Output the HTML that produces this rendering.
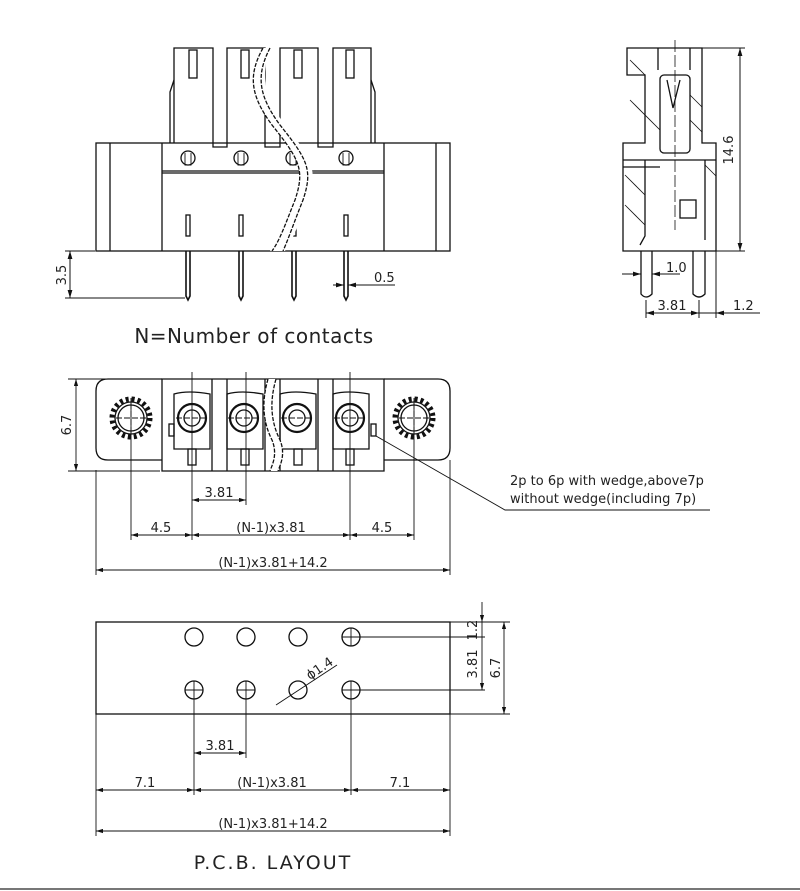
<!DOCTYPE html>
<html><head><meta charset="utf-8"><style>
html,body{margin:0;padding:0;background:#fff;}
svg{display:block;}
text{font-family:"DejaVu Sans","Liberation Sans",sans-serif;fill:#222;}
</style></head><body>
<svg width="800" height="891" viewBox="0 0 800 891" xmlns="http://www.w3.org/2000/svg">
<defs>
<marker id="a" viewBox="0 0 10 6" refX="10" refY="3" markerWidth="8" markerHeight="5" orient="auto-start-reverse"><path d="M0,0 L10,3 L0,6 z" fill="#111"/></marker>
</defs>
<g stroke="#111" stroke-width="1.3" fill="none">
<!-- FRONT VIEW -->
<rect x="96" y="143" width="354" height="108"/>
<line x1="110" y1="143" x2="110" y2="251"/><line x1="436" y1="143" x2="436" y2="251"/>
<line x1="162" y1="143" x2="162" y2="251"/><line x1="384" y1="143" x2="384" y2="251"/>
<line x1="162" y1="171" x2="384" y2="171"/><line x1="162" y1="173" x2="384" y2="173"/>
<path d="M174,143 V48 H213 V143"/>
<path d="M174,80 L170,92 V143"/>
<rect x="189" y="50" width="8" height="28"/>
<path d="M227,143 V48 H265 V143"/><rect x="241" y="50" width="8" height="28"/>
<path d="M280,143 V48 H318 V143"/><rect x="294" y="50" width="8" height="28"/>
<path d="M333,143 V48 H371 V143"/><rect x="346" y="50" width="8" height="28"/>
<path d="M371,80 L375,92 V143"/>
<path d="M213,143 V147 H227 V143 M265,143 V147 H280 V143 M318,143 V147 H333 V143"/>
<circle cx="188" cy="158" r="7"/><circle cx="241" cy="158" r="7"/><circle cx="293" cy="158" r="7"/><circle cx="346" cy="158" r="7"/>
<path d="M185,153 V165 H191 V153 M238,153 V165 H244 V153 M290,153 V165 H296 V153 M343,153 V165 H349 V153" stroke-width="0.9"/>
<rect x="186" y="215" width="4" height="21"/><rect x="239" y="215" width="4" height="21"/><rect x="292" y="215" width="4" height="21"/><rect x="344" y="215" width="4" height="21"/>
<g stroke-width="1.6">
<path d="M186,251 V296 L188,300 L190,296 V251"/>
<path d="M239,251 V296 L241,300 L243,296 V251"/>
<path d="M292,251 V296 L294,300 L296,296 V251"/>
<path d="M344,251 V296 L346,300 L348,296 V251"/>
</g>
<path d="M263,48 C248,75 250,95 272,125 C300,160 305,170 295,200 C285,225 280,240 270,251 L285,251 C293,240 298,225 308,200 C318,170 313,160 285,125 C263,95 261,75 270,48 Z" fill="#fff" stroke="none"/>
<path d="M263,48 C248,75 250,95 272,125 C300,160 305,170 295,200 C285,225 280,240 272,251" stroke-dasharray="4,1.5"/>
<path d="M270,48 C256,75 258,95 280,125 C308,160 313,170 303,200 C293,225 288,240 283,251" stroke-dasharray="4,1.5"/>
<g stroke-width="1">
<line x1="65" y1="251" x2="95" y2="251"/><line x1="65" y1="298" x2="185" y2="298"/>
<line x1="70" y1="251" x2="70" y2="298" marker-start="url(#a)" marker-end="url(#a)"/>
<line x1="333" y1="285" x2="344" y2="285" marker-end="url(#a)"/>
<line x1="395" y1="285" x2="348" y2="285" marker-end="url(#a)"/>
</g>
<!-- SIDE VIEW -->
<path d="M627,48 H702 V143 H716 V251 H623 V143 H645 V75 H627 Z"/>
<line x1="658" y1="48" x2="658" y2="70"/><line x1="690" y1="48" x2="690" y2="70"/>
<rect x="660" y="75" width="30" height="78" rx="4"/>
<path d="M667,80 L673,108 L680,80"/>
<path d="M645,160 V236 L640,245 M705,160 V240"/>
<line x1="623" y1="160" x2="716" y2="160"/><line x1="623" y1="167" x2="660" y2="167"/>
<rect x="680" y="200" width="16" height="18"/>
<line x1="675" y1="40" x2="675" y2="230" stroke-width="0.8" stroke-dasharray="12,3"/>
<g stroke-width="0.8">
<line x1="630" y1="60" x2="645" y2="75"/><line x1="630" y1="100" x2="660" y2="130"/><line x1="690" y1="95" x2="702" y2="107"/><line x1="690" y1="120" x2="702" y2="132"/><line x1="625" y1="175" x2="645" y2="195"/><line x1="625" y1="205" x2="645" y2="225"/><line x1="705" y1="165" x2="716" y2="176"/>
</g>
<path d="M641,251 V294 Q646,300 652,294 V251"/>
<path d="M693,251 V294 Q699,300 705,294 V251"/>
<g stroke-width="1">
<line x1="702" y1="48" x2="745" y2="48"/><line x1="716" y1="251" x2="745" y2="251"/>
<line x1="740" y1="48" x2="740" y2="251" marker-start="url(#a)" marker-end="url(#a)"/>
<line x1="622" y1="274" x2="641" y2="274" marker-end="url(#a)"/><line x1="680" y1="274" x2="652" y2="274" marker-end="url(#a)"/>
<line x1="646" y1="300" x2="646" y2="318"/><line x1="699" y1="300" x2="699" y2="318"/><line x1="716" y1="251" x2="716" y2="318"/>
<line x1="646" y1="313" x2="699" y2="313" marker-start="url(#a)" marker-end="url(#a)"/>
<line x1="760" y1="313" x2="716" y2="313" marker-end="url(#a)"/><line x1="699" y1="313" x2="716" y2="313"/>
</g>
<!-- TOP VIEW -->
<path d="M162,460 H108 Q96,460 96,448 V391 Q96,379 108,379 H162"/>
<path d="M384,460 H438 Q450,460 450,448 V391 Q450,379 438,379 H384"/>
<path d="M162,379 H384 V471 H162 Z"/>
<line x1="212" y1="379" x2="212" y2="471"/><line x1="227" y1="379" x2="227" y2="471"/>
<line x1="265" y1="379" x2="265" y2="471"/><line x1="280" y1="379" x2="280" y2="471"/>
<line x1="318" y1="379" x2="318" y2="471"/><line x1="333" y1="379" x2="333" y2="471"/>
<path d="M174,449 V394 Q188,390 210,394 V449 Z"/><path d="M227,449 V394 Q241,390 263,394 V449 Z"/>
<path d="M280,449 V394 Q294,390 316,394 V449 Z"/><path d="M333,449 V394 Q347,390 369,394 V449 Z"/>
<rect x="169" y="424" width="5" height="12"/><rect x="371" y="424" width="5" height="12"/>
<g stroke-width="2.2"><circle cx="192" cy="418" r="14"/><circle cx="244" cy="418" r="14"/><circle cx="297" cy="418" r="14"/><circle cx="350" cy="418" r="14"/></g>
<circle cx="192" cy="418" r="8"/><circle cx="244" cy="418" r="8"/><circle cx="297" cy="418" r="8"/><circle cx="350" cy="418" r="8"/>
<rect x="188" y="449" width="8" height="16"/><rect x="241" y="449" width="8" height="16"/><rect x="294" y="449" width="8" height="16"/><rect x="346" y="449" width="8" height="16"/>
<circle cx="131" cy="418" r="19" stroke-dasharray="3,3" stroke-width="5"/><circle cx="131" cy="418" r="16" fill="#fff"/><circle cx="131" cy="418" r="13"/>
<circle cx="414" cy="418" r="19" stroke-dasharray="3,3" stroke-width="5"/><circle cx="414" cy="418" r="16" fill="#fff"/><circle cx="414" cy="418" r="13"/>
<path d="M116,418 H146 M131,403 V433 M399,418 H429 M414,403 V433 M176,418 H208 M228,418 H260 M281,418 H313 M334,418 H366" stroke-width="0.9" stroke-dasharray="6,2"/>
<path d="M268,379 C262,400 262,420 272,440 C278,455 272,465 270,471 L278,471 C280,465 286,455 280,440 C270,420 270,400 276,379 Z" fill="#fff" stroke="none"/>
<path d="M268,379 C262,400 262,420 272,440 C278,455 272,465 270,471" stroke-dasharray="4,1.5"/>
<path d="M276,379 C270,400 270,420 280,440 C286,455 280,465 278,471" stroke-dasharray="4,1.5"/>
<g stroke-width="0.9">
<line x1="131" y1="398" x2="131" y2="540"/><line x1="414" y1="398" x2="414" y2="540"/>
<line x1="192" y1="372" x2="192" y2="540"/><line x1="246" y1="372" x2="246" y2="505"/><line x1="350" y1="372" x2="350" y2="540"/>
<line x1="96" y1="470" x2="96" y2="575"/><line x1="450" y1="460" x2="450" y2="575"/>
<line x1="68" y1="379" x2="160" y2="379"/><line x1="68" y1="471" x2="160" y2="471"/>
<line x1="76" y1="379" x2="76" y2="471" marker-start="url(#a)" marker-end="url(#a)"/>
<line x1="192" y1="500" x2="246" y2="500" marker-start="url(#a)" marker-end="url(#a)"/>
<line x1="131" y1="535" x2="192" y2="535" marker-start="url(#a)" marker-end="url(#a)"/>
<line x1="192" y1="535" x2="350" y2="535" marker-start="url(#a)" marker-end="url(#a)"/>
<line x1="350" y1="535" x2="414" y2="535" marker-start="url(#a)" marker-end="url(#a)"/>
<line x1="96" y1="570" x2="450" y2="570" marker-start="url(#a)" marker-end="url(#a)"/>
<polyline points="376,436 505,510 710,510"/>
</g>
<!-- PCB -->
<rect x="96" y="622" width="354" height="92"/>
<circle cx="194" cy="637" r="9"/><circle cx="246" cy="637" r="9"/><circle cx="298" cy="637" r="9"/><circle cx="351" cy="637" r="9"/>
<circle cx="194" cy="690" r="9"/><circle cx="246" cy="690" r="9"/><circle cx="298" cy="690" r="9"/><circle cx="351" cy="690" r="9"/>
<g stroke-width="0.9">
<path d="M185,690 H203 M194,681 V699 M237,690 H255 M246,681 V699 M342,690 H360 M351,681 V699 M342,637 H360 M351,628 V646"/>
<line x1="351" y1="637" x2="485" y2="637"/><line x1="351" y1="690" x2="485" y2="690"/>
<line x1="450" y1="622" x2="510" y2="622"/><line x1="450" y1="714" x2="510" y2="714"/>
<line x1="482" y1="602" x2="482" y2="622" marker-end="url(#a)"/><line x1="482" y1="637" x2="482" y2="690" marker-end="url(#a)"/><line x1="482" y1="622" x2="482" y2="637"/>
<line x1="504" y1="622" x2="504" y2="714" marker-start="url(#a)" marker-end="url(#a)"/>
<line x1="276" y1="705" x2="337" y2="665"/>
<line x1="194" y1="699" x2="194" y2="795"/><line x1="246" y1="699" x2="246" y2="758"/><line x1="351" y1="699" x2="351" y2="795"/>
<line x1="96" y1="714" x2="96" y2="836"/><line x1="450" y1="714" x2="450" y2="836"/>
<line x1="194" y1="753" x2="246" y2="753" marker-start="url(#a)" marker-end="url(#a)"/>
<line x1="96" y1="790" x2="194" y2="790" marker-start="url(#a)" marker-end="url(#a)"/>
<line x1="194" y1="790" x2="351" y2="790" marker-start="url(#a)" marker-end="url(#a)"/>
<line x1="351" y1="790" x2="450" y2="790" marker-start="url(#a)" marker-end="url(#a)"/>
<line x1="96" y1="831" x2="450" y2="831" marker-start="url(#a)" marker-end="url(#a)"/>
</g>
</g>
<line x1="0" y1="889" x2="800" y2="889" stroke="#777" stroke-width="2"/>
<g font-size="13">
<text x="66" y="275" transform="rotate(-90 66 275)" text-anchor="middle">3.5</text>
<text x="374" y="282">0.5</text>
<text x="733" y="150" transform="rotate(-90 733 150)" text-anchor="middle">14.6</text>
<text x="666" y="272">1.0</text>
<text x="672" y="310" text-anchor="middle">3.81</text>
<text x="733" y="310">1.2</text>
<text x="71" y="425" transform="rotate(-90 71 425)" text-anchor="middle">6.7</text>
<text x="219" y="497" text-anchor="middle">3.81</text>
<text x="161" y="532" text-anchor="middle">4.5</text>
<text x="271" y="532" text-anchor="middle">(N-1)x3.81</text>
<text x="382" y="532" text-anchor="middle">4.5</text>
<text x="273" y="567" text-anchor="middle">(N-1)x3.81+14.2</text>
<text x="510" y="485">2p to 6p with wedge,above7p</text>
<text x="510" y="503">without wedge(including 7p)</text>
<text x="477" y="630" transform="rotate(-90 477 630)" text-anchor="middle">1.2</text>
<text x="477" y="664" transform="rotate(-90 477 664)" text-anchor="middle">3.81</text>
<text x="500" y="668" transform="rotate(-90 500 668)" text-anchor="middle">6.7</text>
<text x="322" y="672" transform="rotate(-34 322 672)" text-anchor="middle">ϕ1.4</text>
<text x="220" y="750" text-anchor="middle">3.81</text>
<text x="145" y="787" text-anchor="middle">7.1</text>
<text x="272" y="787" text-anchor="middle">(N-1)x3.81</text>
<text x="400" y="787" text-anchor="middle">7.1</text>
<text x="273" y="828" text-anchor="middle">(N-1)x3.81+14.2</text>
</g>
<text x="254" y="343" font-size="20" text-anchor="middle" letter-spacing="0.5">N=Number of contacts</text>
<text x="273" y="869" font-size="19" text-anchor="middle" letter-spacing="2">P.C.B. LAYOUT</text>
</svg>
</body></html>
